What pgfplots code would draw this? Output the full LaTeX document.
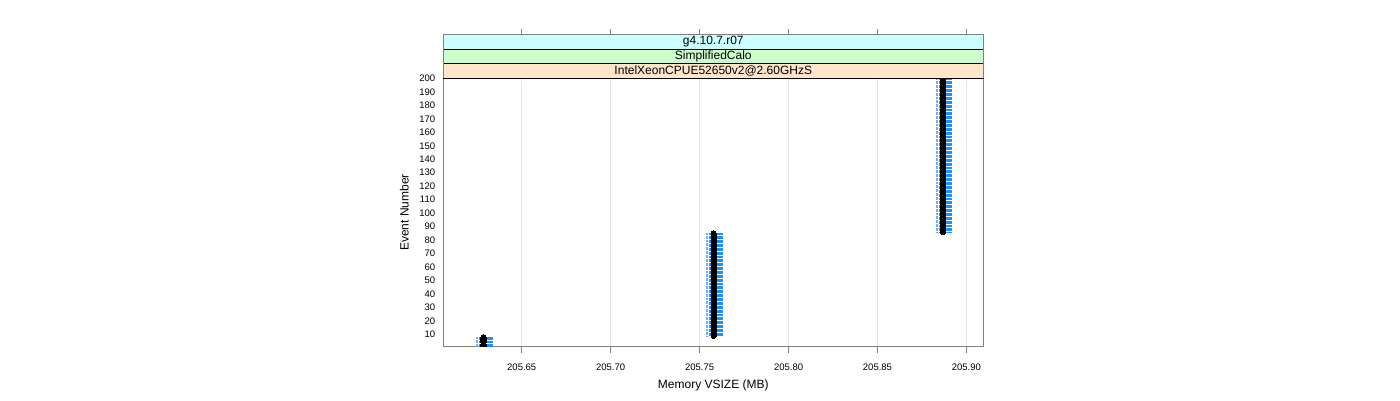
\documentclass[border=0pt]{standalone}
\usepackage{pgfplots}
\pgfplotsset{compat=1.18}
\usepackage{pgfplotstable}
\usetikzlibrary{calc}
\usepackage{fontspec}
\setmainfont{Liberation Sans}
\definecolor{stripcyan}{RGB}{204,255,255}
\definecolor{stripgreen}{RGB}{204,255,204}
\definecolor{strippeach}{RGB}{255,229,204}
\definecolor{dblue}{RGB}{30,144,255}
\definecolor{lblue}{RGB}{110,175,255}
\definecolor{gridc}{RGB}{230,230,230}
\definecolor{framec}{RGB}{128,128,128}

\pgfplotstableread{
ev mem blue light
1 205.6285 205.6299 205.6247
2 205.6285 205.6299 205.6247
3 205.6285 205.6299 205.6247
4 205.6285 205.6299 205.6247
5 205.6285 205.6299 205.6247
6 205.6285 205.6299 205.6247
7 205.6285 205.6299 205.6247
8 205.6285 205.6299 205.6247
9 205.7579 205.7593 205.7543
10 205.7579 205.7593 205.7543
11 205.7579 205.7593 205.7543
12 205.7579 205.7593 205.7543
13 205.7579 205.7593 205.7543
14 205.7579 205.7593 205.7543
15 205.7579 205.7593 205.7543
16 205.7579 205.7593 205.7543
17 205.7579 205.7593 205.7543
18 205.7579 205.7593 205.7543
19 205.7579 205.7593 205.7543
20 205.7579 205.7593 205.7543
21 205.7579 205.7593 205.7543
22 205.7579 205.7593 205.7543
23 205.7579 205.7593 205.7543
24 205.7579 205.7593 205.7543
25 205.7579 205.7593 205.7543
26 205.7579 205.7593 205.7543
27 205.7579 205.7593 205.7543
28 205.7579 205.7593 205.7543
29 205.7579 205.7593 205.7543
30 205.7579 205.7593 205.7543
31 205.7579 205.7593 205.7543
32 205.7579 205.7593 205.7543
33 205.7579 205.7593 205.7543
34 205.7579 205.7593 205.7543
35 205.7579 205.7593 205.7543
36 205.7579 205.7593 205.7543
37 205.7579 205.7593 205.7543
38 205.7579 205.7593 205.7543
39 205.7579 205.7593 205.7543
40 205.7579 205.7593 205.7543
41 205.7579 205.7593 205.7543
42 205.7579 205.7593 205.7543
43 205.7579 205.7593 205.7543
44 205.7579 205.7593 205.7543
45 205.7579 205.7593 205.7543
46 205.7579 205.7593 205.7543
47 205.7579 205.7593 205.7543
48 205.7579 205.7593 205.7543
49 205.7579 205.7593 205.7543
50 205.7579 205.7593 205.7543
51 205.7579 205.7593 205.7543
52 205.7579 205.7593 205.7543
53 205.7579 205.7593 205.7543
54 205.7579 205.7593 205.7543
55 205.7579 205.7593 205.7543
56 205.7579 205.7593 205.7543
57 205.7579 205.7593 205.7543
58 205.7579 205.7593 205.7543
59 205.7579 205.7593 205.7543
60 205.7579 205.7593 205.7543
61 205.7579 205.7593 205.7543
62 205.7579 205.7593 205.7543
63 205.7579 205.7593 205.7543
64 205.7579 205.7593 205.7543
65 205.7579 205.7593 205.7543
66 205.7579 205.7593 205.7543
67 205.7579 205.7593 205.7543
68 205.7579 205.7593 205.7543
69 205.7579 205.7593 205.7543
70 205.7579 205.7593 205.7543
71 205.7579 205.7593 205.7543
72 205.7579 205.7593 205.7543
73 205.7579 205.7593 205.7543
74 205.7579 205.7593 205.7543
75 205.7579 205.7593 205.7543
76 205.7579 205.7593 205.7543
77 205.7579 205.7593 205.7543
78 205.7579 205.7593 205.7543
79 205.7579 205.7593 205.7543
80 205.7579 205.7593 205.7543
81 205.7579 205.7593 205.7543
82 205.7579 205.7593 205.7543
83 205.7579 205.7593 205.7543
84 205.7579 205.7593 205.7543
85 205.7579 205.7593 205.7543
86 205.8868 205.8882 205.8832
87 205.8868 205.8882 205.8832
88 205.8868 205.8882 205.8832
89 205.8868 205.8882 205.8832
90 205.8868 205.8882 205.8832
91 205.8868 205.8882 205.8832
92 205.8868 205.8882 205.8832
93 205.8868 205.8882 205.8832
94 205.8868 205.8882 205.8832
95 205.8868 205.8882 205.8832
96 205.8868 205.8882 205.8832
97 205.8868 205.8882 205.8832
98 205.8868 205.8882 205.8832
99 205.8868 205.8882 205.8832
100 205.8868 205.8882 205.8832
101 205.8868 205.8882 205.8832
102 205.8868 205.8882 205.8832
103 205.8868 205.8882 205.8832
104 205.8868 205.8882 205.8832
105 205.8868 205.8882 205.8832
106 205.8868 205.8882 205.8832
107 205.8868 205.8882 205.8832
108 205.8868 205.8882 205.8832
109 205.8868 205.8882 205.8832
110 205.8868 205.8882 205.8832
111 205.8868 205.8882 205.8832
112 205.8868 205.8882 205.8832
113 205.8868 205.8882 205.8832
114 205.8868 205.8882 205.8832
115 205.8868 205.8882 205.8832
116 205.8868 205.8882 205.8832
117 205.8868 205.8882 205.8832
118 205.8868 205.8882 205.8832
119 205.8868 205.8882 205.8832
120 205.8868 205.8882 205.8832
121 205.8868 205.8882 205.8832
122 205.8868 205.8882 205.8832
123 205.8868 205.8882 205.8832
124 205.8868 205.8882 205.8832
125 205.8868 205.8882 205.8832
126 205.8868 205.8882 205.8832
127 205.8868 205.8882 205.8832
128 205.8868 205.8882 205.8832
129 205.8868 205.8882 205.8832
130 205.8868 205.8882 205.8832
131 205.8868 205.8882 205.8832
132 205.8868 205.8882 205.8832
133 205.8868 205.8882 205.8832
134 205.8868 205.8882 205.8832
135 205.8868 205.8882 205.8832
136 205.8868 205.8882 205.8832
137 205.8868 205.8882 205.8832
138 205.8868 205.8882 205.8832
139 205.8868 205.8882 205.8832
140 205.8868 205.8882 205.8832
141 205.8868 205.8882 205.8832
142 205.8868 205.8882 205.8832
143 205.8868 205.8882 205.8832
144 205.8868 205.8882 205.8832
145 205.8868 205.8882 205.8832
146 205.8868 205.8882 205.8832
147 205.8868 205.8882 205.8832
148 205.8868 205.8882 205.8832
149 205.8868 205.8882 205.8832
150 205.8868 205.8882 205.8832
151 205.8868 205.8882 205.8832
152 205.8868 205.8882 205.8832
153 205.8868 205.8882 205.8832
154 205.8868 205.8882 205.8832
155 205.8868 205.8882 205.8832
156 205.8868 205.8882 205.8832
157 205.8868 205.8882 205.8832
158 205.8868 205.8882 205.8832
159 205.8868 205.8882 205.8832
160 205.8868 205.8882 205.8832
161 205.8868 205.8882 205.8832
162 205.8868 205.8882 205.8832
163 205.8868 205.8882 205.8832
164 205.8868 205.8882 205.8832
165 205.8868 205.8882 205.8832
166 205.8868 205.8882 205.8832
167 205.8868 205.8882 205.8832
168 205.8868 205.8882 205.8832
169 205.8868 205.8882 205.8832
170 205.8868 205.8882 205.8832
171 205.8868 205.8882 205.8832
172 205.8868 205.8882 205.8832
173 205.8868 205.8882 205.8832
174 205.8868 205.8882 205.8832
175 205.8868 205.8882 205.8832
176 205.8868 205.8882 205.8832
177 205.8868 205.8882 205.8832
178 205.8868 205.8882 205.8832
179 205.8868 205.8882 205.8832
180 205.8868 205.8882 205.8832
181 205.8868 205.8882 205.8832
182 205.8868 205.8882 205.8832
183 205.8868 205.8882 205.8832
184 205.8868 205.8882 205.8832
185 205.8868 205.8882 205.8832
186 205.8868 205.8882 205.8832
187 205.8868 205.8882 205.8832
188 205.8868 205.8882 205.8832
189 205.8868 205.8882 205.8832
190 205.8868 205.8882 205.8832
191 205.8868 205.8882 205.8832
192 205.8868 205.8882 205.8832
193 205.8868 205.8882 205.8832
194 205.8868 205.8882 205.8832
195 205.8868 205.8882 205.8832
196 205.8868 205.8882 205.8832
197 205.8868 205.8882 205.8832
198 205.8868 205.8882 205.8832
199 205.8868 205.8882 205.8832
200 205.8868 205.8882 205.8832
}\memtable

\begin{document}
\begin{tikzpicture}
\useasboundingbox (0pt,0pt) rectangle (1400pt,-400pt);
\begin{axis}[
  name=ax,
  at={(443.3pt,-346.7pt)}, anchor=south west,
  scale only axis, width=540pt, height=268.4pt,
  xmin=205.6059, xmax=205.9095, ymin=1, ymax=200,
  xtick={205.65,205.70,205.75,205.80,205.85,205.90},
  xticklabels={205.65,205.70,205.75,205.80,205.85,205.90},
  ytick={10,20,...,200},
  xtick pos=left, ytick pos=left,
  tick align=outside,
  major tick length=6pt,
  ytick style={draw=none},
  xtick style={framec, line width=0.8pt},
  axis line style={framec, line width=0.9pt},
  xmajorgrids, grid style={gridc, line width=0.8pt},
  /pgf/number format/assume math mode=true,
  ticklabel style={font=\fontsize{9.5}{11}\selectfont},
  xticklabel style={yshift=-8pt},
  yticklabel style={inner xsep=2pt},
  clip=true, clip marker paths=true,
]
\addplot[only marks, mark=-, mark size=6.7pt, color=dblue, mark options={line width=1pt}]
  table[x=blue, y=ev] {\memtable};
\addplot[only marks, mark=-, mark size=1pt, color=lblue, mark options={line width=0.7pt}]
  table[x=light, y=ev] {\memtable};
\addplot[only marks, mark=*, mark size=2.6pt, color=black, mark options={fill=black, line width=0pt}]
  table[x=mem, y=ev] {\memtable};
\end{axis}
\draw[black, line width=0.8pt, fill=strippeach] (ax.north west) rectangle ([yshift=14.53pt]ax.north east);
\draw[black, line width=0.8pt, fill=stripgreen] ([yshift=14.53pt]ax.north west) rectangle ([yshift=29.07pt]ax.north east);
\draw[black, line width=0.8pt, fill=stripcyan] ([yshift=29.07pt]ax.north west) rectangle ([yshift=43.6pt]ax.north east);
\draw[framec, line width=0.9pt] (ax.north west) -- ([yshift=43.6pt]ax.north west) -- ([yshift=43.6pt]ax.north east) -- (ax.north east);
\foreach \f in {0.14526,0.30995,0.47464,0.63933,0.80402,0.96871}{
  \draw[framec, line width=0.8pt] ($([yshift=43.6pt]ax.north west)!\f!([yshift=43.6pt]ax.north east)$) -- ++(0,5.4pt);
}
\node[font=\fontsize{12}{14}\selectfont, inner sep=0pt] at ([yshift=7.27pt]ax.north) {IntelXeonCPUE52650v2@2.60GHzS};
\node[font=\fontsize{12}{14}\selectfont, inner sep=0pt] at ([yshift=21.8pt]ax.north) {SimplifiedCalo};
\node[font=\fontsize{12}{14}\selectfont, inner sep=0pt] at ([yshift=36.33pt]ax.north) {g4.10.7.r07};
\node[font=\fontsize{12}{14}\selectfont] at ([yshift=-39pt]ax.south) {Memory VSIZE (MB)};
\node[font=\fontsize{12}{14}\selectfont, rotate=90] at ([xshift=-39pt]ax.west) {Event Number};
\end{tikzpicture}
\end{document}
